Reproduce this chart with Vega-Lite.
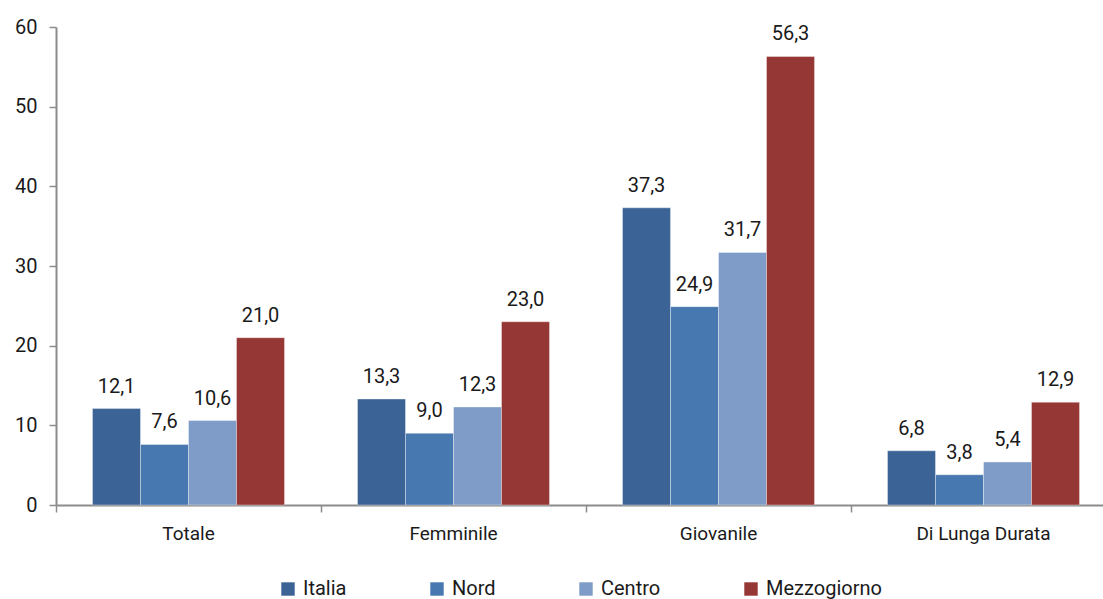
{
  "$schema": "https://vega.github.io/schema/vega-lite/v6.json",
  "width": 1047,
  "height": 478,
  "autosize": {"type": "none"},
  "padding": {"left": 56, "top": 27, "right": 0, "bottom": 94},
  "config": {
    "locale": {"number": {"decimal": ",", "thousands": ".", "grouping": [3], "currency": ["€", ""]}},
    "view": {"stroke": null},
    "font": "Roboto, sans-serif"
  },
  "data": {
    "values": [
      {"categoria": "Totale", "area": "Italia", "valore": 12.1},
      {"categoria": "Totale", "area": "Nord", "valore": 7.6},
      {"categoria": "Totale", "area": "Centro", "valore": 10.6},
      {"categoria": "Totale", "area": "Mezzogiorno", "valore": 21.0},
      {"categoria": "Femminile", "area": "Italia", "valore": 13.3},
      {"categoria": "Femminile", "area": "Nord", "valore": 9.0},
      {"categoria": "Femminile", "area": "Centro", "valore": 12.3},
      {"categoria": "Femminile", "area": "Mezzogiorno", "valore": 23.0},
      {"categoria": "Giovanile", "area": "Italia", "valore": 37.3},
      {"categoria": "Giovanile", "area": "Nord", "valore": 24.9},
      {"categoria": "Giovanile", "area": "Centro", "valore": 31.7},
      {"categoria": "Giovanile", "area": "Mezzogiorno", "valore": 56.3},
      {"categoria": "Di Lunga Durata", "area": "Italia", "valore": 6.8},
      {"categoria": "Di Lunga Durata", "area": "Nord", "valore": 3.8},
      {"categoria": "Di Lunga Durata", "area": "Centro", "valore": 5.4},
      {"categoria": "Di Lunga Durata", "area": "Mezzogiorno", "valore": 12.9}
    ]
  },
  "encoding": {
    "x": {
      "field": "categoria",
      "type": "nominal",
      "sort": ["Totale", "Femminile", "Giovanile", "Di Lunga Durata"],
      "scale": {"paddingInner": 0, "paddingOuter": 0, "range": [0, 1060]},
      "axis": {
        "title": null,
        "labelAngle": 0,
        "bandPosition": 0,
        "domainColor": "#8c8c8c",
        "domainWidth": 2,
        "tickColor": "#8c8c8c",
        "tickWidth": 1.5,
        "tickSize": 7,
        "labelPadding": 12,
        "labelFontSize": 19,
        "labelColor": "#1a1a1a"
      }
    },
    "xOffset": {
      "field": "area",
      "type": "nominal",
      "sort": ["Italia", "Nord", "Centro", "Mezzogiorno"],
      "scale": {"paddingInner": 0, "paddingOuter": 0.76}
    },
    "y": {
      "field": "valore",
      "type": "quantitative",
      "scale": {"domain": [0, 60], "nice": false},
      "axis": {
        "title": null,
        "values": [0, 10, 20, 30, 40, 50, 60],
        "format": "d",
        "grid": false,
        "domainColor": "#8c8c8c",
        "domainWidth": 2,
        "tickColor": "#8c8c8c",
        "tickWidth": 1.5,
        "tickSize": 7,
        "labelPadding": 12,
        "labelFontSize": 20,
        "labelColor": "#1a1a1a"
      }
    }
  },
  "layer": [
    {
      "mark": {"type": "bar", "stroke": "#ffffff", "strokeWidth": 0.6, "strokeOpacity": 0.6},
      "encoding": {
        "color": {
          "field": "area",
          "type": "nominal",
          "sort": ["Italia", "Nord", "Centro", "Mezzogiorno"],
          "scale": {
            "domain": ["Italia", "Nord", "Centro", "Mezzogiorno"],
            "range": ["#3b6396", "#4878b0", "#7f9cc8", "#953735"]
          },
          "legend": {
            "title": null,
            "orient": "none",
            "direction": "horizontal",
            "legendX": 222,
            "legendY": 552,
            "symbolType": "square",
            "symbolSize": 180,
            "symbolStrokeWidth": 0,
            "labelFontSize": 20,
            "labelColor": "#1a1a1a",
            "columnPadding": 80,
            "labelOffset": 5
          }
        }
      }
    },
    {
      "mark": {"type": "text", "baseline": "bottom", "dy": -12, "fontSize": 20, "color": "#1a1a1a"},
      "encoding": {
        "text": {"field": "valore", "type": "quantitative", "format": ".1f"}
      }
    }
  ]
}
